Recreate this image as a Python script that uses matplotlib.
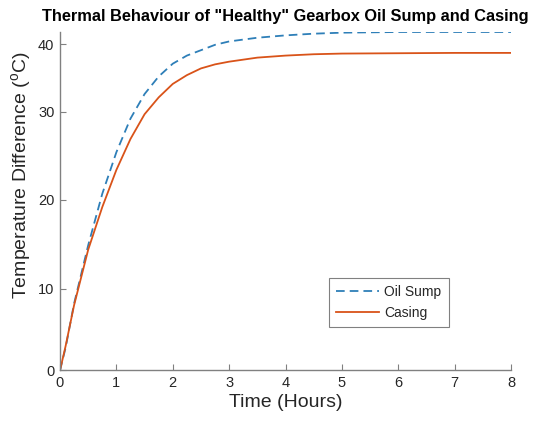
import matplotlib
matplotlib.use("Agg")
import matplotlib.pyplot as plt
import numpy as np

time_h = [0, 0.1, 0.25, 0.5, 0.75, 1.0, 1.25, 1.5, 1.75, 2.0, 2.25, 2.5, 2.75,
          3.0, 3.5, 4.0, 4.5, 5.0, 6.0, 7.0, 8.0]
oil_sump = [0, 2.8, 8.2, 14.9, 20.7, 25.4, 29.2, 32.6, 35.2, 37.1, 38.3, 39.1, 39.9,
            40.4, 40.95, 41.3, 41.55, 41.7, 41.8, 41.8, 41.8]
casing = [0, 3.0, 8.0, 14.4, 19.2, 23.4, 26.9, 29.7, 32.1, 34.1, 35.4, 36.4, 37.0,
          37.4, 38.0, 38.3, 38.5, 38.6, 38.65, 38.7, 38.7]
x_ticks = [0, 1, 2, 3, 4, 5, 6, 7, 8]
y_ticks = [0, 10, 20, 30, 40]

# vertical axis as drawn in the reference (tick spacing is uneven there)
_tick_vals = np.array([0.0, 10.0, 20.0, 30.0, 40.0])
_tick_pos = np.array([0.0, 81.7, 170.7, 259.2, 326.7])
_slope_hi = 6.75


def _fwd(v):
    v = np.asarray(v, dtype=float)
    out = np.interp(v, _tick_vals, _tick_pos)
    out = np.where(v > 40, _tick_pos[-1] + (v - 40) * _slope_hi, out)
    out = np.where(v < 0, v * 8.17, out)
    return out


def _inv(p):
    p = np.asarray(p, dtype=float)
    out = np.interp(p, _tick_pos, _tick_vals)
    out = np.where(p > _tick_pos[-1], 40 + (p - _tick_pos[-1]) / _slope_hi, out)
    out = np.where(p < 0, p / 8.17, out)
    return out


plt.rcParams['font.family'] = ['Liberation Sans', 'DejaVu Sans']
plt.rcParams['mathtext.fontset'] = 'custom'
plt.rcParams['mathtext.rm'] = 'Liberation Sans'

fig = plt.figure(figsize=(5.38, 4.21), dpi=100)
ax = fig.add_axes([0.1115, 0.120, 0.8385, 0.804])
ax.set_yscale('function', functions=(_fwd, _inv))

ax.plot(time_h, oil_sump, color='#2e7fb8', lw=1.3, linestyle=(0, (4.8, 2.8)), label='Oil Sump')
ax.plot(time_h, casing, color='#d95319', lw=1.3, label='Casing')

ax.set_xlim(0, 8)
ax.set_ylim(0, 41.8)
ax.set_xticks(x_ticks)
ax.set_yticks(y_ticks)
ax.set_yticklabels([str(t) for t in y_ticks])
ax.yaxis.set_minor_locator(matplotlib.ticker.NullLocator())

for s in ['top', 'right']:
    ax.spines[s].set_visible(False)
for s in ['left', 'bottom']:
    ax.spines[s].set_color('#808080')
    ax.spines[s].set_linewidth(1.0)
ax.tick_params(direction='in', length=4, width=0.8, color='#808080',
               labelcolor='#262626', labelsize=10.5, pad=4)

ax.set_xlabel('Time (Hours)', fontsize=14, color='#262626', labelpad=3)
ax.set_ylabel(r'Temperature Difference ($^{\mathrm{o}}$C)', fontsize=14, color='#262626')
ax.yaxis.set_label_coords(-0.058, 0.577)
ax.set_title('Thermal Behaviour of "Healthy" Gearbox Oil Sump and Casing',
             fontsize=11.8, fontweight='bold', color='#000000', pad=8)

leg = ax.legend(loc='lower left', bbox_to_anchor=(0.596, 0.128, 0.266, 0.142), mode='expand',
                borderaxespad=0, fancybox=False, edgecolor='#808080', framealpha=1, fontsize=10,
                handlelength=3.1, handletextpad=0.4, borderpad=0.5, labelspacing=0.5)
leg.get_frame().set_linewidth(0.8)
for t in leg.get_texts():
    t.set_color('#262626')

fig.savefig('out.png', dpi=100)
